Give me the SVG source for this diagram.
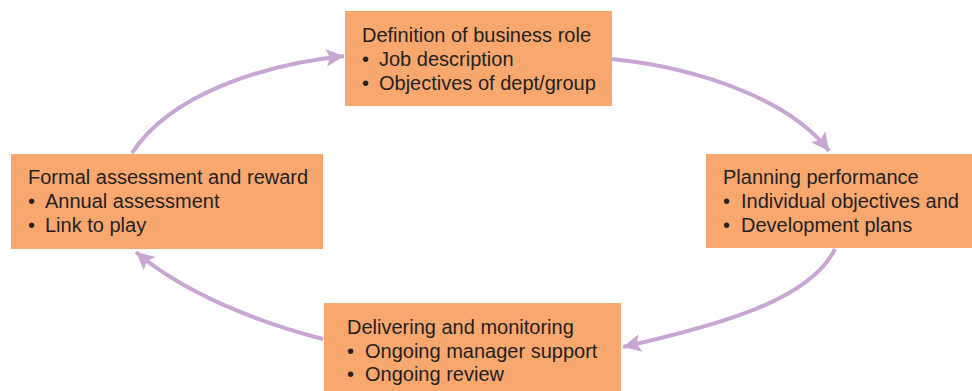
<svg xmlns="http://www.w3.org/2000/svg" width="972" height="391" viewBox="0 0 972 391">
<defs>
<style>
.box{fill:#f8a86f;stroke:none}
text{font-family:"Liberation Sans",Arial,sans-serif;font-size:20px;fill:#231f20}
.conn{fill:none;stroke:#c8a6d3;stroke-width:4}
</style>
<marker id="ah" markerUnits="userSpaceOnUse" markerWidth="22" markerHeight="22" viewBox="0 0 22 22" refX="19" refY="11" orient="auto">
<path d="M1,2 L19,11 L1,20 L5,11 z" fill="#c8a6d3"/>
</marker>
</defs>
<rect width="972" height="391" fill="#ffffff"/>
<g id="connectors">
<path class="conn" d="M612,59 C700,68 790,100 829,151" marker-end="url(#ah)"/>
<path class="conn" d="M835,249 C810,300 720,325 623,347" marker-end="url(#ah)"/>
<path class="conn" d="M323,339 C250,320 180,290 136,252" marker-end="url(#ah)"/>
<path class="conn" d="M132,153 C170,95 260,65 344,56" marker-end="url(#ah)"/>
</g>
<g id="node-definition">
<rect class="box" x="345" y="11" width="267" height="95"/>
<text x="362" y="42">Definition of business role</text>
<text x="362" y="66">•</text><text x="379" y="66">Job description</text>
<text x="362" y="90">•</text><text x="379" y="90">Objectives of dept/group</text>
</g>
<g id="node-planning">
<rect class="box" x="706" y="154" width="266" height="94"/>
<text x="723" y="184">Planning performance</text>
<text x="723" y="208">•</text><text x="741" y="208">Individual objectives and</text>
<text x="723" y="232">•</text><text x="741" y="232">Development plans</text>
</g>
<g id="node-delivering">
<rect class="box" x="324" y="303" width="297" height="88"/>
<text x="347" y="334">Delivering and monitoring</text>
<text x="347" y="358">•</text><text x="365" y="358">Ongoing manager support</text>
<text x="347" y="381">•</text><text x="365" y="381">Ongoing review</text>
</g>
<g id="node-formal">
<rect class="box" x="11" y="154" width="312" height="95"/>
<text x="28" y="184">Formal assessment and reward</text>
<text x="28" y="208">•</text><text x="45" y="208">Annual assessment</text>
<text x="28" y="232">•</text><text x="45" y="232">Link to play</text>
</g>
</svg>
